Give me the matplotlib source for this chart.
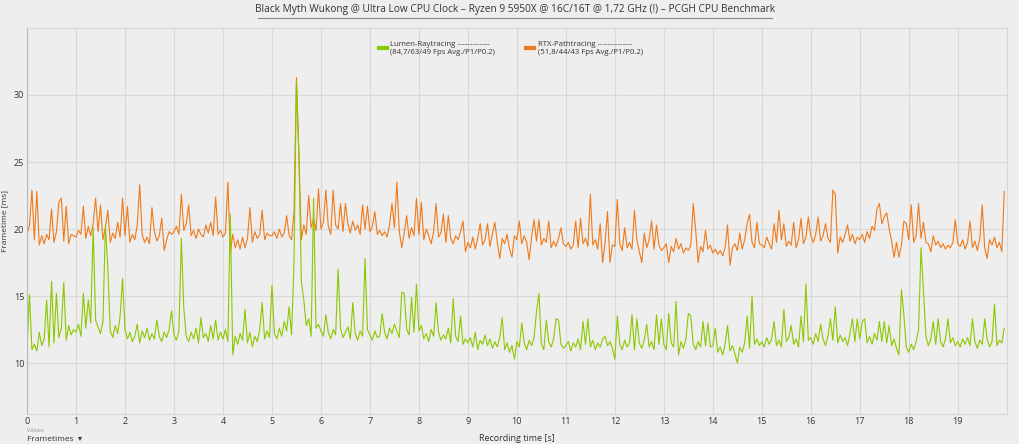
import numpy as np
import matplotlib
matplotlib.use("Agg")
import matplotlib.pyplot as plt
from matplotlib.lines import Line2D

plt.rcParams["font.family"] = ["Open Sans", "DejaVu Sans"]

# frametimes [ms], 20 samples per second of recording
lumen_ms = [
    11.2, 15.1, 11.0, 11.4, 10.9, 12.3, 11.3, 11.8, 14.7, 11.2, 16.1, 11.5, 15.2, 11.9, 12.6, 16.0, 11.7, 12.8, 12.1, 12.5,
    12.3, 12.9, 12.0, 15.2, 12.6, 14.7, 13.0, 20.1, 13.2, 12.7, 12.2, 13.1, 20.3, 17.0, 12.4, 11.9, 12.8, 12.2, 13.5, 16.3,
    12.5, 11.8, 12.3, 11.6, 12.0, 12.9, 11.5, 12.4, 11.9, 12.6, 11.7, 12.2, 11.8, 13.2, 12.0, 11.6, 12.3, 11.9, 12.5, 13.9,
    12.1, 11.7, 12.4, 19.3, 14.1, 12.0, 11.6, 12.3, 11.8, 12.6, 11.5, 13.4, 11.9, 12.2, 11.6, 12.8, 11.8, 13.2, 11.7, 12.3,
    11.8, 12.5, 11.6, 21.1, 10.6, 12.0, 11.4, 12.2, 11.7, 14.0, 11.5, 12.3, 11.2, 12.0, 11.6, 12.5, 14.5, 11.8, 12.4, 11.9,
    15.8, 12.2, 11.8, 12.6, 12.0, 13.1, 12.4, 14.2, 12.1, 17.5, 31.0, 25.5, 16.1, 14.7, 12.8, 13.3, 12.0, 22.3, 12.6, 12.9,
    12.4, 12.0, 13.6, 12.3, 11.8, 12.5, 12.1, 17.0, 12.6, 11.9, 12.3, 12.7, 11.8, 14.5, 12.2, 11.7, 12.4, 12.0, 17.8, 12.5,
    12.1, 11.7, 12.4, 11.9, 12.0, 13.7, 12.3, 11.8, 12.6, 12.2, 12.9, 12.4, 11.9, 15.3, 15.2, 12.5, 12.1, 14.9, 12.3, 15.9,
    12.4, 12.8, 11.8, 12.2, 11.6, 12.5, 12.0, 14.5, 12.3, 11.7, 12.1, 11.8, 12.6, 11.5, 14.8, 12.0, 11.6, 13.5, 11.4, 11.8,
    11.5, 11.9, 11.2, 12.3, 11.0, 11.7, 11.4, 12.1, 11.3, 11.8, 11.1, 11.6, 11.2, 11.9, 13.4, 11.0, 11.5, 10.8, 11.3, 10.3,
    11.6, 11.2, 13.0, 11.5, 11.0, 11.7, 11.3, 11.9, 13.8, 15.2, 11.4, 11.0, 13.2, 11.6, 11.2, 11.8, 13.3, 13.2, 11.4, 11.1,
    11.3, 11.6, 10.9, 11.5, 11.2, 11.8, 11.0, 13.1, 11.4, 13.3, 11.2, 11.7, 11.0, 11.5, 11.2, 11.8, 12.0, 11.3, 11.6, 11.1,
    10.3, 13.5, 11.4, 11.0, 11.7, 11.2, 11.5, 13.6, 11.0, 13.3, 11.5, 11.1, 11.7, 12.9, 11.2, 11.6, 11.0, 13.6, 11.4, 13.3,
    11.4, 11.0, 13.7, 11.5, 11.2, 14.6, 10.6, 11.6, 11.1, 11.8, 13.7, 13.5, 11.4, 11.0, 11.6, 11.2, 13.1, 11.3, 13.0, 11.2,
    11.3, 12.6, 10.8, 11.2, 10.6, 11.4, 12.8, 10.9, 11.3, 10.7, 10.0, 11.2, 10.8, 11.5, 13.5, 11.1, 15.0, 11.4, 11.8, 11.3,
    11.6, 11.2, 11.9, 11.4, 11.8, 13.1, 11.3, 11.7, 11.2, 14.0, 11.6, 11.9, 12.8, 11.4, 11.8, 11.2, 13.5, 11.6, 15.9, 11.7,
    11.9, 11.4, 12.2, 11.6, 12.9, 11.8, 11.3, 12.0, 13.3, 11.7, 14.2, 11.5, 12.1, 11.6, 11.9, 11.3, 12.2, 13.3, 11.6, 13.3,
    11.8, 13.1, 13.3, 11.5, 12.0, 11.4, 12.2, 11.7, 13.1, 11.6, 13.1, 11.5, 12.8, 11.3, 11.8, 11.1, 10.6, 15.5, 13.6, 11.2,
    10.8, 11.4, 11.0, 11.6, 12.5, 18.6, 15.4, 12.0, 11.3, 11.8, 13.1, 11.4, 13.3, 11.6, 11.2, 11.8, 13.3, 11.5, 11.9, 11.3,
    11.6, 11.2, 11.8, 11.4, 11.9, 11.3, 13.3, 11.6, 11.1, 11.7, 11.4, 13.3, 11.8, 11.2, 11.6, 14.4, 11.3, 11.7, 11.5, 12.6,
]

rtx_ms = [
    19.6, 20.3, 22.9, 19.2, 22.8, 18.8, 19.5, 18.9, 19.6, 19.2, 21.5, 19.0, 19.8, 22.0, 22.3, 19.1, 21.7, 18.9, 19.6, 19.5,
    19.4, 19.9, 19.6, 21.7, 19.3, 20.2, 19.5, 20.4, 22.3, 19.8, 21.8, 19.2, 20.1, 21.4, 19.0, 19.7, 19.3, 20.5, 19.4, 22.3,
    19.5, 21.7, 19.0, 19.6, 19.2, 20.3, 23.3, 19.6, 19.0, 19.4, 18.9, 21.6, 19.8, 19.1, 19.5, 20.8, 18.4, 19.2, 19.8, 19.6,
    19.8, 20.2, 19.6, 22.6, 19.9, 20.4, 21.8, 19.5, 19.9, 19.3, 20.0, 19.6, 19.4, 20.3, 19.7, 20.5, 19.5, 22.4, 19.6, 19.9,
    19.4, 19.7, 23.5, 18.3, 19.6, 18.6, 19.2, 18.5, 19.4, 18.6, 19.3, 21.6, 19.0, 19.8, 19.3, 19.6, 21.4, 19.2, 19.7, 19.5,
    19.5, 19.8, 19.3, 20.0, 19.4, 19.7, 21.0, 19.5, 19.2, 21.3, 31.3, 25.6, 19.2, 20.3, 19.6, 22.5, 20.1, 20.8, 19.9, 23.0,
    20.0, 20.5, 22.9, 20.2, 19.6, 22.9, 20.3, 20.0, 21.9, 19.8, 21.9, 20.4, 19.7, 20.6, 19.9, 20.3, 19.6, 21.8, 20.0, 21.7,
    19.8, 20.2, 21.3, 19.6, 19.9, 19.5, 19.8, 19.4, 20.3, 21.9, 20.1, 23.5, 19.8, 18.6, 19.7, 21.0, 19.3, 20.1, 19.5, 22.3,
    19.6, 22.0, 19.2, 20.0, 19.5, 18.9, 19.8, 21.9, 19.4, 19.7, 21.1, 19.0, 21.0, 19.3, 18.9, 19.5, 19.2, 19.8, 20.6, 18.3,
    19.0, 18.6, 19.4, 18.5, 19.3, 20.4, 18.8, 19.2, 20.4, 18.7, 19.6, 20.5, 19.0, 17.8, 19.3, 18.9, 19.6, 18.5, 17.9, 19.5,
    19.2, 20.6, 18.9, 19.5, 19.0, 17.7, 19.4, 20.7, 19.1, 20.7, 18.8, 19.3, 19.0, 20.6, 18.6, 19.1, 18.7, 19.3, 20.1, 18.9,
    18.7, 19.0, 18.5, 18.8, 20.6, 18.6, 20.8, 18.9, 19.3, 18.7, 22.6, 18.8, 19.2, 18.5, 20.4, 17.5, 19.0, 21.3, 17.5, 18.8,
    18.7, 22.2, 18.9, 18.4, 20.1, 18.6, 19.0, 18.5, 21.4, 19.2, 18.3, 17.5, 19.7, 18.6, 19.2, 20.6, 18.5, 20.3, 18.8, 18.4,
    18.6, 18.9, 17.5, 18.7, 18.3, 19.3, 18.5, 18.9, 18.2, 18.6, 18.4, 18.8, 21.9, 19.9, 17.5, 18.7, 18.3, 19.9, 18.5, 18.8,
    18.2, 18.5, 18.1, 18.4, 18.0, 18.6, 20.3, 17.3, 18.6, 18.9, 18.4, 19.7, 18.5, 19.2, 20.4, 21.1, 19.0, 18.6, 20.5, 18.9,
    18.8, 18.6, 19.4, 18.9, 18.5, 20.4, 19.0, 21.4, 19.2, 20.4, 18.7, 19.1, 18.8, 20.5, 18.6, 19.2, 20.8, 18.9, 19.4, 20.9,
    19.5, 19.0, 19.6, 20.9, 19.1, 19.5, 20.4, 19.3, 19.0, 22.9, 22.6, 18.2, 19.4, 19.0, 19.6, 20.3, 19.1, 19.6, 18.9, 19.4,
    19.2, 19.6, 19.0, 19.8, 19.3, 20.2, 19.9, 21.5, 21.9, 20.4, 20.9, 21.2, 20.0, 19.1, 17.9, 19.0, 17.9, 18.8, 20.6, 20.4,
    19.2, 21.8, 19.0, 19.5, 21.9, 19.3, 20.5, 19.0, 18.9, 18.3, 19.5, 18.8, 19.1, 18.6, 18.9, 18.5, 18.8, 18.6, 19.0, 20.7,
    18.9, 18.7, 19.2, 18.5, 19.0, 20.6, 18.6, 19.1, 18.4, 19.3, 21.8, 18.6, 17.8, 19.2, 18.8, 19.4, 18.6, 19.0, 18.3, 22.8,
]

labels = [
    "Lumen-Raytracing -------------\n(84,7/63/49 Fps Avg./P1/P0.2)",
    "RTX-Pathtracing --------------\n(51,8/44/43 Fps Avg./P1/P0.2)",
]
colors = ["#8cc800", "#f07a1a"]
title = "Black Myth Wukong @ Ultra Low CPU Clock \u2013 Ryzen 9 5950X @ 16C/16T @ 1,72 GHz (!) \u2013 PCGH CPU Benchmark"

# sample times (20 samples per second)
t = np.arange(len(rtx_ms)) / 20.0

bg = "#eeeeee"
txt = "#333333"

fig = plt.figure(figsize=(10.2, 4.44), dpi=100, facecolor=bg)
ax = fig.add_axes([0.0265, 0.0676, 0.9605, 0.8694], facecolor=bg)

ax.plot(t, rtx_ms, color=colors[1], lw=0.8, label=labels[1])
ax.plot(t, lumen_ms, color=colors[0], lw=0.8, label=labels[0])

ax.set_xlim(0, 20)
ax.set_ylim(6.2, 35)
ax.set_xticks(range(0, 20))
ax.set_yticks([10, 15, 20, 25, 30])
ax.grid(True, color="#d9d9d9", lw=0.8)
ax.set_axisbelow(True)
ax.tick_params(length=0, labelsize=6.5, colors=txt, pad=2)
for side in ["top", "right", "bottom"]:
    ax.spines[side].set_color("#d6d6d6")
ax.spines["left"].set_color("#b8b8b8")

ax.set_xlabel("Recording time [s]", fontsize=6.5, color=txt)
ax.xaxis.set_label_coords(0.5, -0.052)
ax.set_ylabel("Frametime [ms]", fontsize=6, color=txt)
ax.yaxis.set_label_coords(-0.019, 0.5)

handles = [Line2D([], [], color=colors[0], lw=3), Line2D([], [], color=colors[1], lw=3)]
ax.legend(handles, labels, loc="upper center", bbox_to_anchor=(0.494, 0.985), ncol=2,
          frameon=False, fontsize=5.6, handlelength=1.0, columnspacing=4.0,
          labelcolor=txt, handletextpad=0.5)

fig.text(0.505, 0.979, title, ha="center", va="center", fontsize=7.3, color=txt)
fig.add_artist(Line2D([0.253, 0.757], [0.96, 0.96], color="#888888", lw=0.8))

fig.text(0.0265, 0.031, "Values", fontsize=4, color="#999999", va="center")
fig.text(0.0265, 0.011, "Frametimes  \u25be", fontsize=6, color=txt, va="center")

fig.savefig("out.png", dpi=100, facecolor=bg)
